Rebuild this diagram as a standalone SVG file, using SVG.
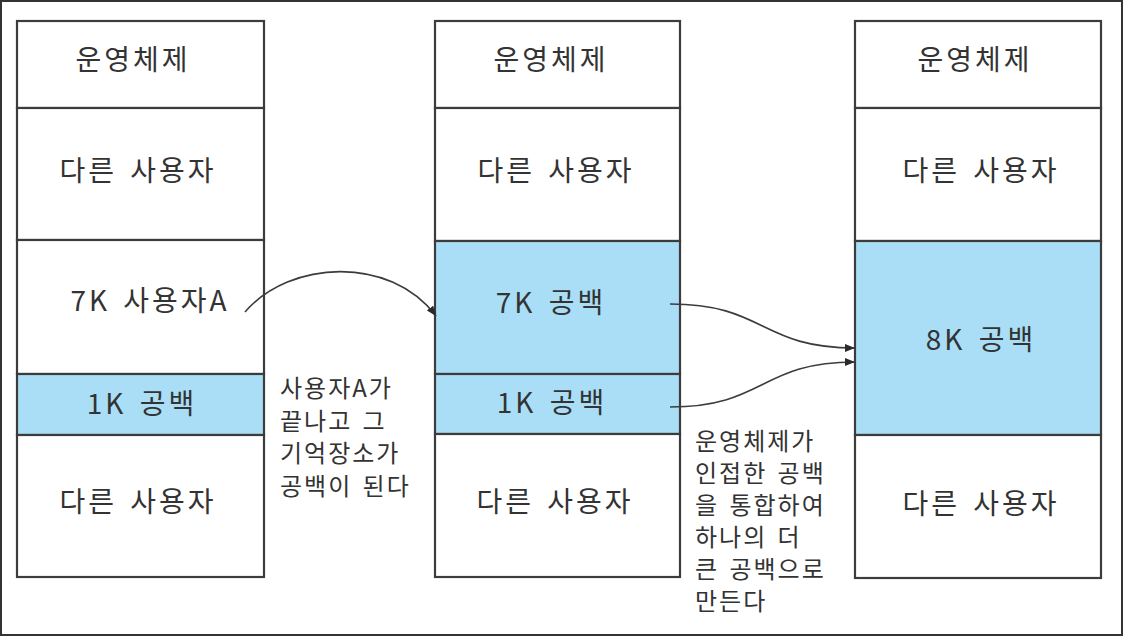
<svg xmlns="http://www.w3.org/2000/svg" width="1124" height="637" viewBox="0 0 1124 637">
<style>
.frame{fill:#fff;stroke:#333;stroke-width:2}
.cell{fill:#fff;stroke:#3c3c3c;stroke-width:2.2}
.free{fill:#a9def6;stroke:#3c3c3c;stroke-width:2.2}
.lbl{font-family:"Noto Sans CJK KR","Noto Sans",sans-serif;font-size:28px;fill:#333;text-anchor:middle;letter-spacing:3px;word-spacing:4px}
.note{font-family:"Noto Sans CJK KR","Noto Sans",sans-serif;font-size:24px;fill:#333;letter-spacing:2px;word-spacing:3px}
.conn{fill:none;stroke:#3c3c3c;stroke-width:1.6}
</style>
<defs>
<marker id="ah" viewBox="0 0 10 8" refX="10" refY="4" markerWidth="10" markerHeight="8" markerUnits="userSpaceOnUse" orient="auto">
<path d="M0,0 L10,4 L0,8 Z" fill="#2a2a2a"/>
</marker>
</defs>
<rect class="frame" x="1" y="1" width="1121" height="634"/>

<g id="memory-before">
<rect class="cell" x="17" y="21" width="247" height="87"/>
<rect class="cell" x="17" y="108" width="247" height="132"/>
<rect class="cell" x="17" y="240" width="247" height="134"/>
<rect class="free" x="17" y="374" width="247" height="61"/>
<rect class="cell" x="17" y="435" width="247" height="142"/>
<text class="lbl" x="133" y="70">운영체제</text>
<text class="lbl" x="138" y="181">다른 사용자</text>
<text class="lbl" x="150" y="311">7K 사용자A</text>
<text class="lbl" x="142" y="414">1K 공백</text>
<text class="lbl" x="138" y="512">다른 사용자</text>
</g>

<g id="memory-middle">
<rect class="cell" x="435" y="21" width="245" height="87"/>
<rect class="cell" x="435" y="108" width="245" height="133"/>
<rect class="free" x="435" y="241" width="245" height="133"/>
<rect class="free" x="435" y="374" width="245" height="60"/>
<rect class="cell" x="435" y="434" width="245" height="143"/>
<text class="lbl" x="551" y="70">운영체제</text>
<text class="lbl" x="556" y="181">다른 사용자</text>
<text class="lbl" x="551" y="313">7K 공백</text>
<text class="lbl" x="552" y="413">1K 공백</text>
<text class="lbl" x="555" y="512">다른 사용자</text>
</g>

<g id="memory-after">
<rect class="cell" x="855" y="21" width="246" height="87"/>
<rect class="cell" x="855" y="108" width="246" height="133"/>
<rect class="free" x="855" y="241" width="246" height="194"/>
<rect class="cell" x="855" y="435" width="246" height="143"/>
<text class="lbl" x="975" y="70">운영체제</text>
<text class="lbl" x="981" y="181">다른 사용자</text>
<text class="lbl" x="981" y="350">8K 공백</text>
<text class="lbl" x="981" y="514">다른 사용자</text>
</g>

<g id="connectors">
<path class="conn" d="M245,312 C290,260 390,255 436,316" marker-end="url(#ah)"/>
<path class="conn" d="M670,304 C765,304 760,348 855,348" marker-end="url(#ah)"/>
<path class="conn" d="M670,407 C765,407 760,362 855,362" marker-end="url(#ah)"/>
</g>

<g id="note-release">
<text class="note" x="280" y="397">사용자A가</text>
<text class="note" x="280" y="430">끝나고 그</text>
<text class="note" x="280" y="462">기억장소가</text>
<text class="note" x="280" y="495">공백이 된다</text>
</g>

<g id="note-merge">
<text class="note" x="695" y="450">운영체제가</text>
<text class="note" x="695" y="482">인접한 공백</text>
<text class="note" x="695" y="514">을 통합하여</text>
<text class="note" x="695" y="546">하나의 더</text>
<text class="note" x="695" y="578">큰 공백으로</text>
<text class="note" x="695" y="610">만든다</text>
</g>
</svg>
